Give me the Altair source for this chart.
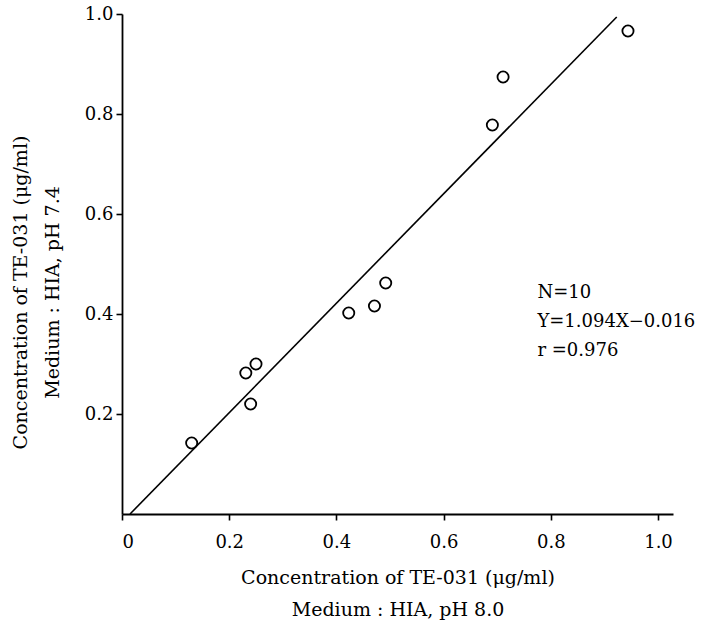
import altair as alt
import pandas as pd

x_vals = [0.130, 0.231, 0.240, 0.250, 0.423, 0.471, 0.492, 0.691, 0.711, 0.944]
y_vals = [0.142, 0.282, 0.220, 0.300, 0.402, 0.416, 0.462, 0.778, 0.874, 0.966]

line_x = [0.015, 0.923]
line_y = [0.0, 0.994]

note_lines = ["N=10", "Y=1.094X\u22120.016", "r =0.976"]
note_x = [0.775, 0.775, 0.775]
note_y = [0.442, 0.384, 0.326]

x_ticks = [0, 0.2, 0.4, 0.6, 0.8, 1.0]
y_ticks = [0.2, 0.4, 0.6, 0.8, 1.0]

FONT = "DejaVu Serif"

pts = pd.DataFrame({"x": x_vals, "y": y_vals})
ln = pd.DataFrame({"x": line_x, "y": line_y})
notes = pd.DataFrame({"x": note_x, "y": note_y, "t": note_lines})

xscale = alt.Scale(domain=[0, 1.028], nice=False, zero=False)
yscale = alt.Scale(domain=[0, 1.0], nice=False, zero=False)

xaxis = alt.Axis(
    values=x_ticks,
    labelExpr="datum.value == 0 ? '0' : format(datum.value, '.1f')",
    title=["Concentration of TE-031 (\u03bcg/ml)", "Medium : HIA, pH 8.0"],
    grid=False,
)
yaxis = alt.Axis(
    values=y_ticks,
    labelExpr="format(datum.value, '.1f')",
    title=["Concentration of TE-031 (\u03bcg/ml)", "Medium : HIA, pH 7.4"],
    titleY=278,
    grid=False,
)

points = alt.Chart(pts).mark_point(
    shape="circle", filled=False, size=125, color="black", strokeWidth=1.8, opacity=1
).encode(
    x=alt.X("x:Q", scale=xscale, axis=xaxis),
    y=alt.Y("y:Q", scale=yscale, axis=yaxis),
)

fit = alt.Chart(ln).mark_line(color="black", strokeWidth=1.6).encode(
    x=alt.X("x:Q", scale=xscale),
    y=alt.Y("y:Q", scale=yscale),
)

text = alt.Chart(notes).mark_text(
    align="left", baseline="middle", font=FONT, fontSize=18, color="black"
).encode(
    x=alt.X("x:Q", scale=xscale),
    y=alt.Y("y:Q", scale=yscale),
    text="t:N",
)

chart = (
    alt.layer(fit, points, text)
    .properties(
        width=551,
        height=500,
        padding={"left": 122, "top": 14, "right": 32, "bottom": 109},
        autosize=alt.AutoSizeParams(type="none"),
        background="white",
    )
    .configure_view(stroke=None)
    .configure_axis(
        domainColor="black",
        domainWidth=1.8,
        tickColor="black",
        tickWidth=1.6,
        tickSize=6,
        labelFont=FONT,
        labelFontSize=18,
        labelColor="black",
        titleFont=FONT,
        titleFontSize=19,
        titleFontWeight="normal",
        titleColor="black",
        titleLineHeight=32,
    )
    .configure_axisX(labelPadding=13, titlePadding=17)
    .configure_axisY(labelPadding=3, titlePadding=22)
)

chart.save("out.html", embed_options={"renderer": "svg", "actions": False})
